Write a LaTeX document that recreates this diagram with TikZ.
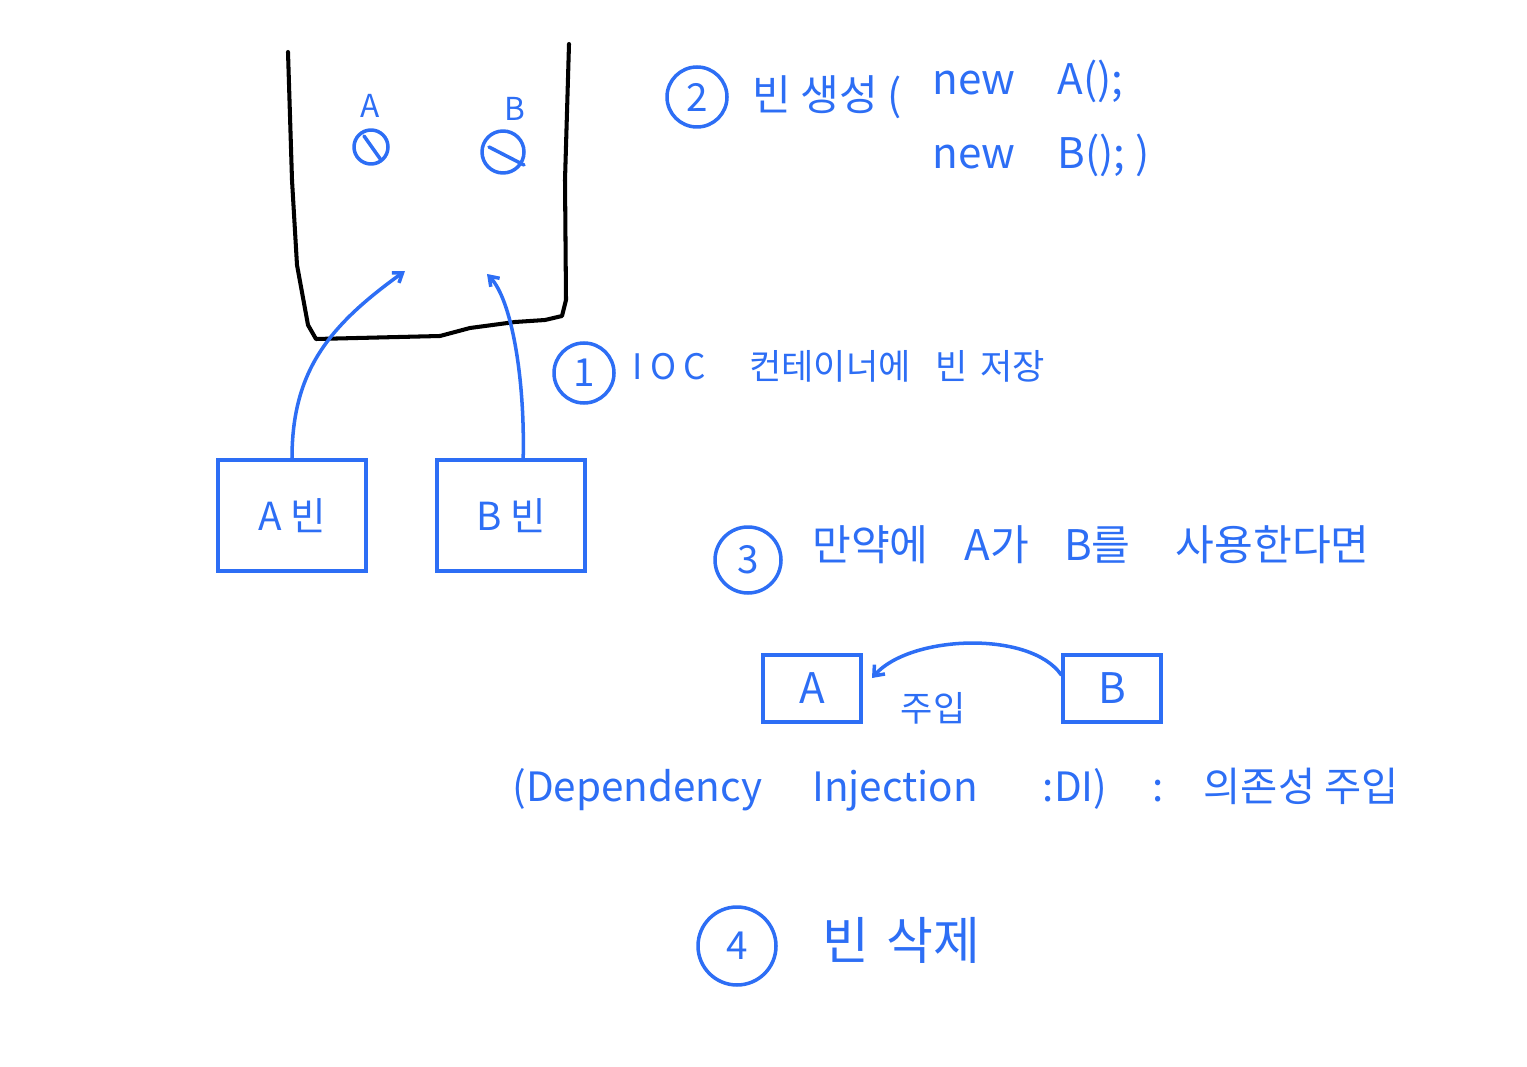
\documentclass[tikz,border=0pt]{standalone}
\usepackage{fontspec}
\setmainfont{Noto Sans CJK KR}
\usepackage{xcolor}
\usetikzlibrary{arrows.meta}
\definecolor{C1}{RGB}{45,110,245}
\definecolor{Ck}{RGB}{0,0,0}

\begin{document}
\begin{tikzpicture}[x=0.02cm,y=-0.02cm,
    pen/.style={C1,line width=2pt,line cap=round,line join=round},
    bean/.style={draw=C1,line width=2pt,minimum width=2.96cm,minimum height=2.22cm,
      text=C1,font=\fontsize{22}{24}\selectfont},
    smallbean/.style={draw=C1,line width=2pt,minimum width=1.96cm,minimum height=1.34cm,
      text=C1,font=\fontsize{24}{26}\selectfont},
    num/.style={circle,draw=C1,line width=2pt,text=C1,inner sep=0pt,
      font=\fontsize{22}{24}\selectfont},
    note/.style={anchor=west,text=C1,inner sep=0pt}]
    \useasboundingbox (0,0) rectangle (1527,1067);
    % container
    \draw[Ck,line width=2.3pt,line cap=round,line join=round]
      (288,52) -- (292,180) -- (297,265) -- (308,325) -- (316,339)
      -- (440,336) -- (470,328) -- (515,322) -- (545,320) -- (562,316)
      -- (566,300) -- (565,180) -- (569,44);
    \node[text=C1,font=\fontsize{18}{20}\selectfont] (la) at (370,106) {A};
    \node[text=C1,font=\fontsize{18}{20}\selectfont] (lb) at (515,109) {B};
    \draw[pen] (371,147) circle (0.34cm);
    \draw[pen] (364,136) -- (381,160);
    \draw[pen] (503,152) circle (0.42cm);
    \draw[pen] (489,147) -- (524,165);
    \coordinate (ain) at (405,271);
    \coordinate (bin) at (487,274);
    % beans
    \node[bean] (abean) at (292,515.5) {A 빈};
    \node[bean] (bbean) at (511,515.5) {B 빈};
    \draw[pen,-{Straight Barb[length=5pt,width=7pt]}]
      (abean.north) .. controls (292,370) and (330,325) .. (ain);
    \draw[pen,-{Straight Barb[length=5pt,width=7pt]}]
      (bbean.78) .. controls (525,380) and (512,300) .. (bin);
    % steps
    \node[num,minimum size=1.2cm] (n2) at (697,97) {2};
    \node[note,font=\fontsize{24}{26}\selectfont] (t2) at (752,97) {빈 생성 (};
    \node[note,align=left,font=\fontsize{24}{42}\selectfont] (t2b) at (932,118)
      {new\quad A();\\new\quad B(); )};
    \node[num,minimum size=1.2cm] (n1) at (584,373) {1};
    \node[note,font=\fontsize{20}{22}\selectfont] (t1) at (632,366)
      {I\hspace{0.15cm}O\hspace{0.15cm}C\hspace{0.86cm}컨테이너에\hspace{0.5cm}빈\hspace{0.25cm}저장};
    \node[num,minimum size=1.32cm] (n3) at (748,560) {3};
    \node[note,font=\fontsize{24}{26}\selectfont] (t3) at (812,545)
      {만약에\hspace{0.72cm}A가\hspace{0.7cm}B를\hspace{0.9cm}사용한다면};
    \node[smallbean] (sa) at (812,688.5) {A};
    \node[smallbean] (sb) at (1112,688.5) {B};
    \draw[pen,-{Straight Barb[length=5pt,width=8pt]},shorten >=0.28cm]
      (sb.165) .. controls (1030,630) and (910,635) .. (sa.east);
    \node[text=C1,font=\fontsize{20}{22}\selectfont] (inj) at (933,708) {주입};
    \node[note,font=\fontsize{23}{25}\selectfont] (tdi) at (512,790)
      {(Dependency\hspace{1.0cm}Injection\hspace{1.3cm}:DI)\hspace{0.9cm}:\hspace{0.8cm}의존성 주입};
    \node[num,minimum size=1.56cm] (n4) at (737,946) {4};
    \node[note,font=\fontsize{29}{31}\selectfont] (t4) at (822,940)
      {빈\hspace{0.34cm}삭제};
\end{tikzpicture}
\end{document}
